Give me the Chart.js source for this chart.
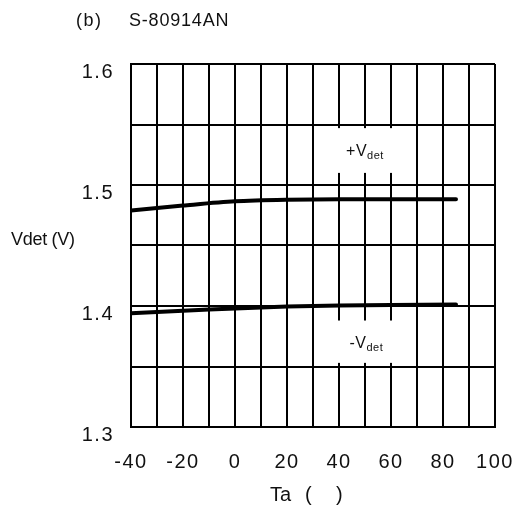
<!DOCTYPE html>
<html>
<head>
<meta charset="utf-8">
<script src="https://cdn.jsdelivr.net/npm/chart.js@4/dist/chart.umd.min.js"></script>
<style>
  html, body { margin: 0; padding: 0; background: #fff; }
  #wrap { width: 516px; height: 507px; }
</style>
</head>
<body>
<div id="wrap"><canvas id="c" width="516" height="507"></canvas></div>
<script>
// Detection voltage vs. ambient temperature, S-80914AN
const temps      = [-40, -20, 0, 20, 40, 60, 85];
const vdetPlus   = [1.479, 1.483, 1.4865, 1.4878, 1.4882, 1.4883, 1.4883];
const vdetMinus  = [1.394, 1.396, 1.398, 1.3995, 1.4004, 1.4009, 1.4012];
const xRange     = [-40, 100];
const yRange     = [1.3, 1.6];
const titleParts = ['(b)', 'S-80914AN'];
const yAxisText  = 'Vdet (V)';
const xAxisParts = ['Ta', '(', ')'];

const FONT = '"Liberation Sans", Arial, sans-serif';

const toPoints = (xs, ys) => xs.map((x, i) => ({ x: x, y: ys[i] }));

// Curve labels sit in white boxes that interrupt the grid
const curveLabels = [
  { sign: '+', box: [31.5, 68.5, 1.547, 1.510], at: [50, 1.529] },
  { sign: '-', box: [31.5, 68.5, 1.388, 1.353], at: [50.5, 1.370] }
];

const annotations = {
  id: 'annotations',
  beforeDraw(chart) {
    // slightly tracked lettering for the tick labels
    chart.ctx.letterSpacing = '1.5px';
  },
  afterDatasetsDraw(chart) {
    const { ctx, scales: { x, y } } = chart;
    ctx.save();
    ctx.letterSpacing = '0.5px';
    curveLabels.forEach(l => {
      const x0 = x.getPixelForValue(l.box[0]), x1 = x.getPixelForValue(l.box[1]);
      const y0 = y.getPixelForValue(l.box[2]), y1 = y.getPixelForValue(l.box[3]);
      ctx.fillStyle = '#fff';
      ctx.fillRect(x0, y0, x1 - x0, y1 - y0);
      const cx = x.getPixelForValue(l.at[0]), cy = y.getPixelForValue(l.at[1]);
      ctx.fillStyle = '#111';
      ctx.textBaseline = 'alphabetic';
      ctx.font = '16px ' + FONT;
      const main = l.sign + 'V';
      const wMain = ctx.measureText(main).width;
      ctx.font = '11px ' + FONT;
      const wSub = ctx.measureText('det').width;
      const start = cx - (wMain + wSub) / 2;
      ctx.font = '16px ' + FONT;
      ctx.textAlign = 'left';
      ctx.fillText(main, start, cy + 6);
      ctx.font = '11px ' + FONT;
      ctx.fillText('det', start + wMain, cy + 9);
    });
    ctx.restore();
  },
  afterDraw(chart) {
    const { ctx } = chart;
    ctx.save();
    ctx.fillStyle = '#111';
    ctx.textBaseline = 'middle';
    ctx.textAlign = 'left';
    ctx.letterSpacing = '1.5px';
    ctx.font = '18px ' + FONT;
    ctx.fillText(titleParts[0], 76, 21);
    ctx.letterSpacing = '0.8px';
    ctx.fillText(titleParts[1], 129, 21);
    ctx.letterSpacing = '-0.3px';
    ctx.font = '18px ' + FONT;
    ctx.fillText(yAxisText, 11, 240);
    ctx.letterSpacing = '0px';
    ctx.font = '20px ' + FONT;
    ctx.fillText(xAxisParts[0], 270, 495);
    ctx.fillText(xAxisParts[1], 305, 495);
    ctx.fillText(xAxisParts[2], 336, 495);
    ctx.restore();
  }
};

new Chart(document.getElementById('c'), {
  type: 'line',
  data: {
    datasets: [
      { label: '+Vdet', data: toPoints(temps, vdetPlus) },
      { label: '-Vdet', data: toPoints(temps, vdetMinus) }
    ]
  },
  options: {
    responsive: false,
    animation: false,
    devicePixelRatio: 1,
    layout: { padding: { left: 0, top: 64, right: 21, bottom: 0 } },
    elements: {
      line: { borderColor: '#000', borderWidth: 4, tension: 0.3, borderCapStyle: 'round', borderJoinStyle: 'round', fill: false },
      point: { radius: 0, hoverRadius: 0 }
    },
    plugins: { legend: { display: false }, tooltip: { enabled: false }, title: { display: false } },
    scales: {
      x: {
        type: 'linear',
        min: xRange[0], max: xRange[1],
        afterFit(scale) {
          scale.height = 80;
          scale.paddingLeft = 0;
          scale.paddingRight = 0;
        },
        grid: { color: '#000', lineWidth: 2, drawTicks: false },
        border: { color: '#000', width: 2 },
        ticks: {
          stepSize: 10,
          autoSkip: false,
          maxRotation: 0,
          padding: 23,
          color: '#111',
          font: { family: FONT, size: 20 },
          callback: v => (v % 20 === 0 ? String(v) : '')
        }
      },
      y: {
        min: yRange[0], max: yRange[1],
        afterFit(scale) {
          scale.width = 131;
          scale.paddingTop = 0;
          scale.paddingBottom = 0;
        },
        grid: { color: '#000', lineWidth: 2, drawTicks: false },
        border: { color: '#000', width: 2 },
        ticks: {
          stepSize: 0.05,
          autoSkip: false,
          padding: 17,
          labelOffset: 8,
          color: '#111',
          font: { family: FONT, size: 20 },
          callback: v => {
            const r = Math.round(v * 100);
            return r % 10 === 0 ? (r / 100).toFixed(1) : '';
          }
        }
      }
    }
  },
  plugins: [annotations]
});
</script>
</body>
</html>
